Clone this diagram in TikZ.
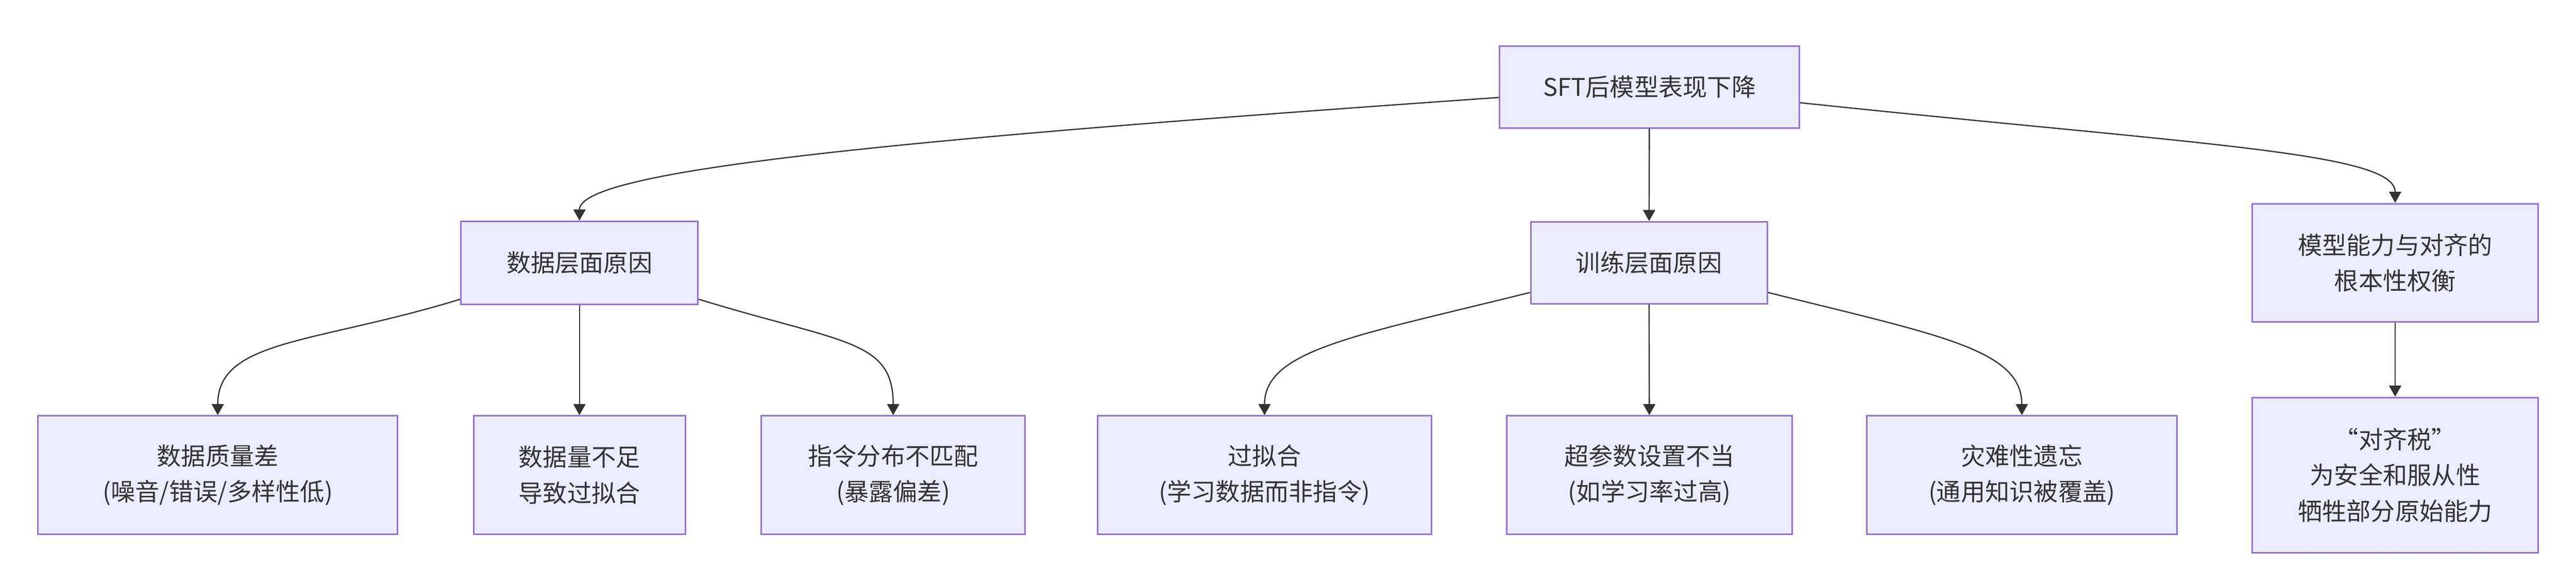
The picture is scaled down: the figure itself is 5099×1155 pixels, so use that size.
\documentclass[tikz,border=0pt]{standalone}
\usepackage{fontspec}
\newfontfamily\cjk{Noto Sans CJK SC}
\usetikzlibrary{arrows.meta}
\definecolor{boxfill}{HTML}{ECECFF}
\definecolor{boxline}{HTML}{9370DB}
\definecolor{edgeline}{HTML}{333333}
\begin{document}
\begin{tikzpicture}[x=0.01cm,y=-0.01cm,
    main node/.style={rectangle,draw=boxline,fill=boxfill,line width=0.85pt,inner sep=0pt,align=center,text=edgeline,font=\cjk\fontsize{13.7}{20.2}\selectfont,minimum height=2.34cm},
    every edge/.style={draw=edgeline,line width=0.7pt,-{Triangle[length=0.22cm,width=0.24cm]}}]
                \useasboundingbox (0,0) rectangle (5099,1155);
                \node[main node,minimum width=5.93cm,minimum height=1.62cm] at (3265,172) (top) {SFT后模型表现下降};
                \node[main node,minimum width=4.69cm,minimum height=1.64cm] at (1147,520) (data) {数据层面原因};
                \node[main node,minimum width=4.68cm,minimum height=1.62cm] at (3264,520) (train) {训练层面原因};
                \node[main node,minimum width=5.65cm] at (4741,520) (trade) {模型能力与对齐的\\根本性权衡};

                \node[main node,minimum width=7.11cm] at (431,940) (quality) {数据质量差\\(噪音/错误/多样性低)};
                \node[main node,minimum width=4.19cm] at (1147,940) (amount) {数据量不足\\导致过拟合};
                \node[main node,minimum width=5.22cm] at (1768,940) (mismatch) {指令分布不匹配\\(暴露偏差)};
                \node[main node,minimum width=6.60cm] at (2503,940) (overfit) {过拟合\\(学习数据而非指令)};
                \node[main node,minimum width=5.65cm] at (3265,940) (hyper) {超参数设置不当\\(如学习率过高)};
                \node[main node,minimum width=6.13cm] at (4002,940) (forget) {灾难性遗忘\\(通用知识被覆盖)};
                \node[main node,minimum width=5.65cm,minimum height=3.07cm] at (4741,940) (tax) {“对齐税”\\为安全和服从性\\牺牲部分原始能力};

                \path
                    (top) edge[out=184,in=90,out distance=12cm,in distance=1cm] (data)
                    (top) edge (train)
                    (top) edge[out=-6,in=90,out distance=8cm,in distance=1cm] (trade)
                    (data) edge[out=197,in=90,out distance=3cm,in distance=1.5cm] (quality)
                    (data) edge (amount)
                    (data) edge[out=-17,in=90,out distance=3cm,in distance=1.5cm] (mismatch)
                    (train) edge[out=194,in=90,out distance=3.5cm,in distance=1.3cm] (overfit)
                    (train) edge (hyper)
                    (train) edge[out=-14,in=90,out distance=3.5cm,in distance=1.3cm] (forget)
                    (trade) edge (tax)
                    ;
            \end{tikzpicture}
\end{document}
